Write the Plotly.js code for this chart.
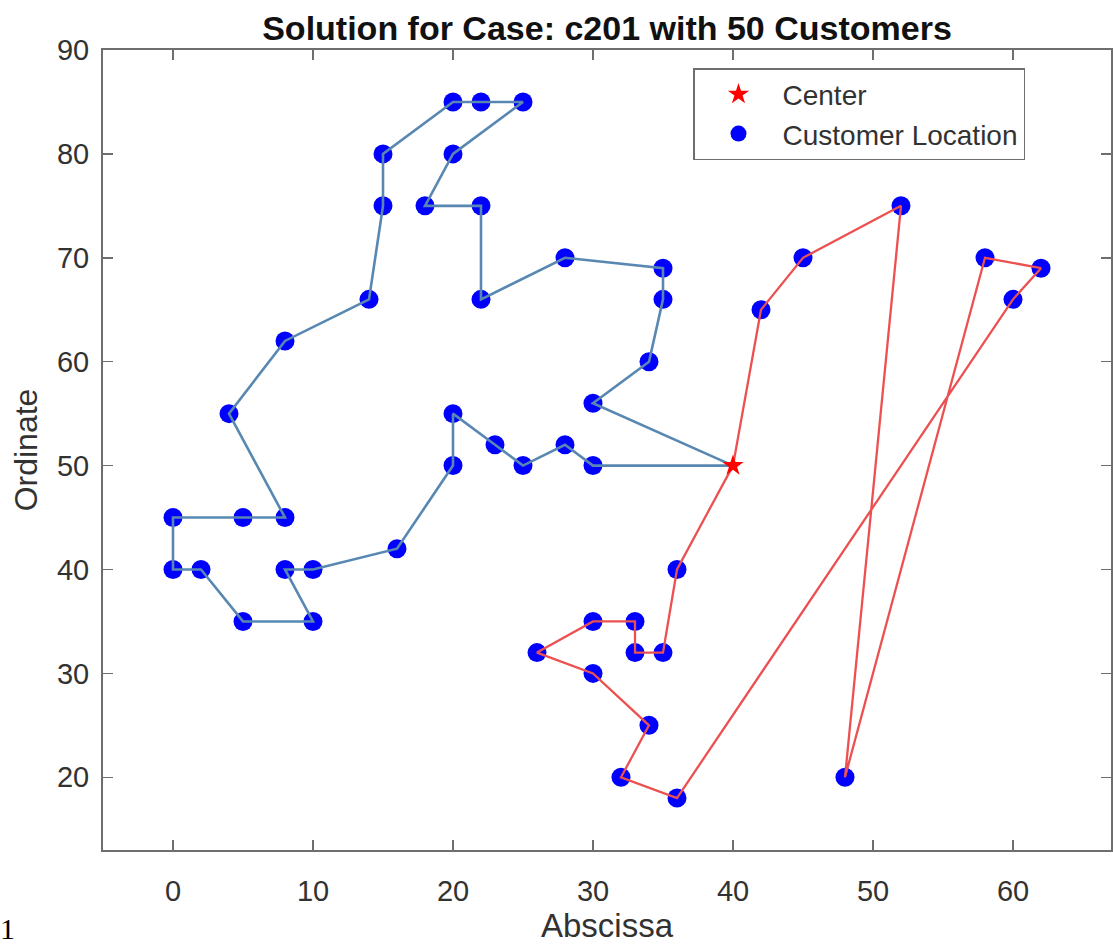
<!DOCTYPE html>
<html>
<head>
<meta charset="utf-8">
<script src="https://cdn.plot.ly/plotly-3.0.1.min.js"></script>
<style>html,body{margin:0;padding:0;background:#fff;}</style>
</head>
<body>
<div id="chart" style="width:1113px;height:944px;"></div>
<script>
// Depot (center)
const centerX = [40];
const centerY = [50];

// Route 1 (blue) customer sequence, starting and ending at the center
const route1X = [30, 28, 25, 23, 20, 20, 16, 10, 8, 10, 5, 2, 0, 0, 5, 8, 4, 8, 14, 15, 15, 20, 22, 25, 20, 18, 22, 22, 28, 35, 35, 34, 30];
const route1Y = [50, 52, 50, 52, 55, 50, 42, 40, 40, 35, 35, 40, 40, 45, 45, 45, 55, 62, 66, 75, 80, 85, 85, 85, 80, 75, 75, 66, 70, 69, 66, 60, 56];

// Route 2 (red) customer sequence, starting and ending at the center
const route2X = [36, 35, 33, 33, 30, 26, 30, 34, 32, 36, 60, 62, 58, 48, 52, 45, 42];
const route2Y = [40, 32, 32, 35, 35, 32, 30, 25, 20, 18, 66, 69, 70, 20, 75, 70, 65];

const xTicks = [0, 10, 20, 30, 40, 50, 60];
const yTicks = [20, 30, 40, 50, 60, 70, 80, 90];

const fontFam = '"Liberation Sans", Arial, Helvetica, sans-serif';
const axisCol = 'rgb(110,110,110)';
const textCol = 'rgb(50,50,50)';

const custX = route1X.concat(route2X);
const custY = route1Y.concat(route2Y);

const traces = [
  {
    x: custX, y: custY, type: 'scatter', mode: 'markers', name: 'Customer Location',
    marker: {color: 'rgb(0,0,255)', size: 19, symbol: 'circle'}, legendrank: 2
  },
  {
    x: centerX.concat(route1X, centerX), y: centerY.concat(route1Y, centerY),
    type: 'scatter', mode: 'lines', showlegend: false,
    line: {color: 'rgb(88,136,178)', width: 2.6}
  },
  {
    x: centerX.concat(route2X, centerX), y: centerY.concat(route2Y, centerY),
    type: 'scatter', mode: 'lines', showlegend: false,
    line: {color: 'rgb(236,80,80)', width: 2.3}
  },
  {
    x: centerX, y: centerY, type: 'scatter', mode: 'markers', name: 'Center',
    marker: {color: 'rgb(255,0,0)', size: 16, symbol: 'star'}, legendrank: 1
  }
];

const layout = {
  width: 1113, height: 944,
  paper_bgcolor: '#ffffff', plot_bgcolor: '#ffffff',
  margin: {l: 103, r: 2, t: 50, b: 94, pad: 0},
  font: {family: fontFam, color: textCol},
  title: {
    text: '<b>Solution for Case: c201 with 50 Customers</b>',
    font: {family: fontFam, size: 34, color: '#111'},
    x: 0.5, xref: 'paper', xanchor: 'center',
    y: 1 - 28/944, yref: 'container', yanchor: 'middle'
  },
  xaxis: {
    range: [-5, 67], tickvals: xTicks, ticktext: xTicks.map(String),
    ticks: 'inside', ticklen: 10, tickwidth: 1.5, tickcolor: axisCol,
    showline: true, linecolor: axisCol, linewidth: 2, mirror: 'ticks',
    showgrid: false, zeroline: false,
    tickfont: {size: 29, color: textCol}, ticklabelstandoff: 14,
    title: {text: 'Abscissa', font: {size: 33, color: textCol}, standoff: 4}
  },
  yaxis: {
    range: [13, 90], tickvals: yTicks, ticktext: yTicks.map(String),
    ticks: 'inside', ticklen: 10, tickwidth: 1.5, tickcolor: axisCol,
    showline: true, linecolor: axisCol, linewidth: 2, mirror: 'ticks',
    showgrid: false, zeroline: false,
    tickfont: {size: 29, color: textCol}, ticklabelstandoff: 6,
    title: {text: 'Ordinate', font: {size: 32, color: textCol}, standoff: 10}
  },
  legend: {
    x: (693 - 103) / 1008, y: (850 - 68) / 800, xanchor: 'left', yanchor: 'top',
    bgcolor: '#ffffff', bordercolor: axisCol, borderwidth: 1.5,
    font: {size: 28, color: textCol}, itemwidth: 78,
    traceorder: 'normal'
  },
  annotations: [{
    text: '1', xref: 'paper', yref: 'paper',
    x: (-2 - 103) / 1008, y: (850 - 929) / 800, xanchor: 'left', yanchor: 'middle',
    showarrow: false, font: {family: '"Liberation Serif", "DejaVu Serif", serif', size: 30, color: '#000'}
  }],
  showlegend: true
};

Plotly.newPlot('chart', traces, layout, {displayModeBar: false, staticPlot: true});
</script>
</body>
</html>
